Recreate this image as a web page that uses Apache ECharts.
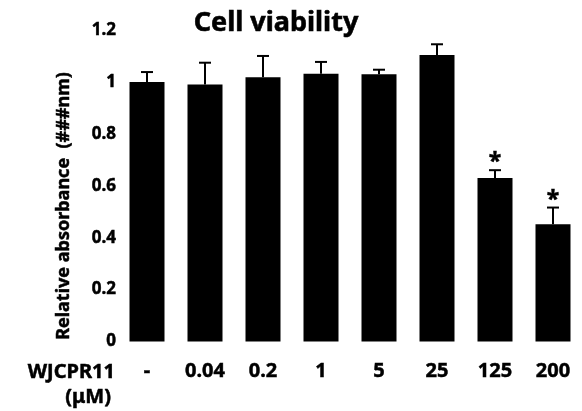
<!DOCTYPE html>
<html>
<head>
<meta charset="utf-8">
<script src="https://cdn.jsdelivr.net/npm/echarts@6/dist/echarts.min.js"></script>
<style>html,body{margin:0;padding:0;background:#fff;}#c{width:582px;height:411px;}</style>
</head>
<body>
<div id="c"></div>
<script>
var categories = ['-', '0.04', '0.2', '1', '5', '25', '125', '200'];
var means = [1.0, 0.99, 1.018, 1.031, 1.03, 1.104, 0.63, 0.452];
var errors = [0.038, 0.084, 0.082, 0.046, 0.017, 0.041, 0.03, 0.064];
var significance = ['', '', '', '', '', '', '*', '*'];
var yTicks = [0, 0.2, 0.4, 0.6, 0.8, 1, 1.2];

var FONT = '"Noto Sans", "DejaVu Sans", sans-serif';
var chart = echarts.init(document.getElementById('c'));
var errData = means.map(function (m, i) { return [i, m, errors[i], significance[i]]; });

chart.setOption({
  animation: false,
  title: {
    text: 'Cell viability',
    left: 271, top: 5, textAlign: 'center',
    textStyle: { fontFamily: FONT, fontWeight: 'bold', fontSize: 27, color: '#000', textBorderColor: '#000', textBorderWidth: 0.6 }
  },
  grid: { left: 118, right: 0, top: 30, bottom: 69.5 },
  xAxis: {
    type: 'category',
    data: categories,
    axisLine: { show: false },
    axisTick: { show: false },
    axisLabel: { margin: 20, color: '#000', fontFamily: FONT, fontWeight: 'bold', fontSize: 20, textBorderColor: '#000', textBorderWidth: 0.5 }
  },
  yAxis: {
    type: 'value',
    min: 0, max: 1.2, interval: 0.2,
    axisLine: { show: false },
    axisTick: { show: false },
    splitLine: { show: false },
    axisLabel: {
      margin: 2, color: '#000', fontFamily: FONT, fontWeight: 'bold', fontSize: 17,
      textBorderColor: '#000', textBorderWidth: 0.5,
      formatter: function (v) {
        for (var k = 0; k < yTicks.length; k++) {
          if (Math.abs(yTicks[k] - v) < 1e-9) return String(yTicks[k]);
        }
        return '';
      }
    }
  },
  series: [
    {
      type: 'bar',
      data: means,
      barWidth: 35,
      itemStyle: { color: '#000' },
      z: 2
    },
    {
      type: 'custom',
      data: errData,
      z: 3,
      renderItem: function (params, api) {
        var i = api.value(0), m = api.value(1), e = api.value(2);
        var sig = significance[i];
        var p0 = api.coord([i, m]);
        var p1 = api.coord([i, m + e]);
        var cap = 6;
        var children = [
          { type: 'line', shape: { x1: p0[0], y1: p0[1], x2: p1[0], y2: p1[1] }, style: { stroke: '#000', lineWidth: 2 } },
          { type: 'line', shape: { x1: p1[0] - cap, y1: p1[1], x2: p1[0] + cap, y2: p1[1] }, style: { stroke: '#000', lineWidth: 2 } }
        ];
        if (sig) {
          children.push({
            type: 'text',
            style: {
              text: sig, x: p1[0], y: p1[1] + 4,
              align: 'center', verticalAlign: 'bottom',
              fill: '#000', font: 'bold 23px ' + FONT, stroke: '#000', lineWidth: 0.5
            }
          });
        }
        return { type: 'group', children: children };
      }
    }
  ],
  graphic: [
    { type: 'text', x: 64, y: 206, rotation: Math.PI / 2,
      style: { text: 'Relative absorbance  (###nm)', align: 'center', verticalAlign: 'middle', fill: '#000',
               font: 'bold 18px ' + FONT, stroke: '#000', lineWidth: 0.5 } },
    { type: 'text', x: 115, y: 372,
      style: { text: 'WJCPR11', align: 'right', verticalAlign: 'middle', fill: '#000', font: 'bold 20px ' + FONT, stroke: '#000', lineWidth: 0.5 } },
    { type: 'text', x: 111, y: 397,
      style: { text: '(μM)', align: 'right', verticalAlign: 'middle', fill: '#000', font: 'bold 20px ' + FONT, stroke: '#000', lineWidth: 0.5 } }
  ]
});
</script>
</body>
</html>
